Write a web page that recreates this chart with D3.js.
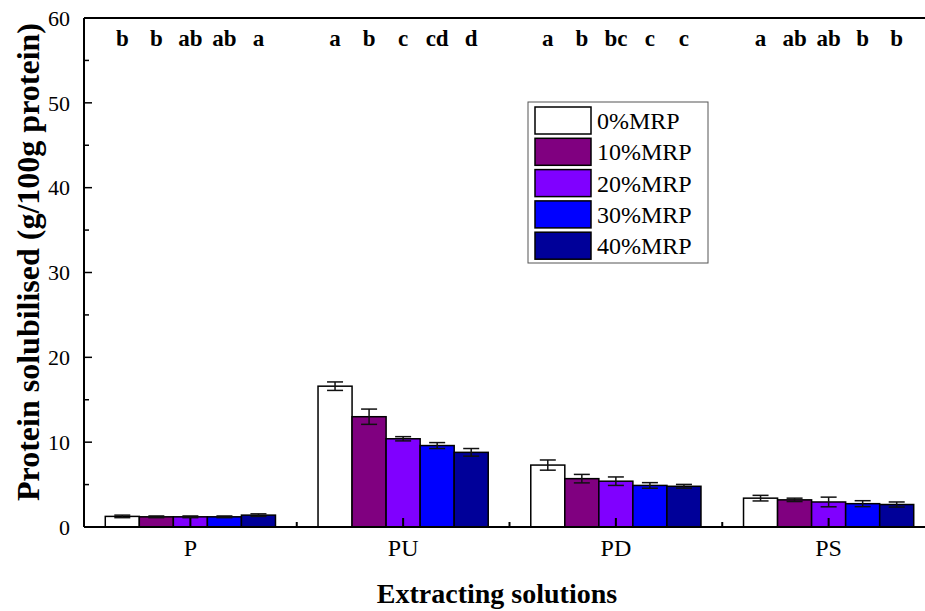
<!DOCTYPE html>
<html>
<head>
<meta charset="utf-8">
<script src="https://cdn.jsdelivr.net/npm/d3@7/dist/d3.min.js"></script>
<style>
  html, body { margin: 0; padding: 0; background: #fff; }
  svg { display: block; }
</style>
</head>
<body>
<svg id="chart" width="925" height="611"></svg>
<script>
// Extracting solutions on the x axis
const categories = ["P", "PU", "PD", "PS"];
const seriesNames = ["0%MRP", "10%MRP", "20%MRP", "30%MRP", "40%MRP"];
const seriesColors = ["#ffffff", "#800080", "#8000ff", "#0000ff", "#000099"];

// Protein solubilised (g/100g protein), one array per MRP level (P, PU, PD, PS)
const mrp0  = [1.25, 16.6, 7.3, 3.4];
const mrp10 = [1.2, 13.0, 5.7, 3.2];
const mrp20 = [1.2, 10.4, 5.4, 2.95];
const mrp30 = [1.2, 9.6, 4.9, 2.75];
const mrp40 = [1.4, 8.8, 4.8, 2.65];

// Standard deviations
const err0  = [0.15, 0.5, 0.6, 0.33];
const err10 = [0.1, 0.9, 0.5, 0.2];
const err20 = [0.1, 0.25, 0.5, 0.57];
const err30 = [0.1, 0.35, 0.33, 0.35];
const err40 = [0.15, 0.45, 0.22, 0.3];

// Significance letters per extracting solution
const lettersP  = ["b", "b", "ab", "ab", "a"];
const lettersPU = ["a", "b", "c", "cd", "d"];
const lettersPD = ["a", "b", "bc", "c", "c"];
const lettersPS = ["a", "ab", "ab", "b", "b"];

const yTicks = [0, 10, 20, 30, 40, 50, 60];
const yMinorTicks = [5, 15, 25, 35, 45, 55];

const values = [mrp0, mrp10, mrp20, mrp30, mrp40];
const errors = [err0, err10, err20, err30, err40];
const letters = [lettersP, lettersPU, lettersPD, lettersPS];

const svg = d3.select("#chart")
  .attr("font-family", "Liberation Serif, Times New Roman, serif");
const pLeft = 84, pRight = 935, pTop = 18, pBottom = 527;

const x0 = d3.scaleBand().domain(categories).range([pLeft, pRight])
  .paddingInner(0.2).paddingOuter(0.1);
const x1 = d3.scaleBand().domain(seriesNames).range([0, x0.bandwidth()]);
const y = d3.scaleLinear().domain([0, 60]).range([pBottom, pTop]);

// Bars with error bars
const rows = [];
categories.forEach((c, ci) => {
  seriesNames.forEach((s, si) => {
    rows.push({ cat: c, ser: s, si, v: values[si][ci], e: errors[si][ci], letter: letters[ci][si] });
  });
});
const cx = d => x0(d.cat) + x1(d.ser) + x1.bandwidth() / 2;

const g = svg.append("g");
g.selectAll("rect.bar").data(rows).join("rect")
  .attr("class", "bar")
  .attr("x", d => x0(d.cat) + x1(d.ser))
  .attr("y", d => y(d.v))
  .attr("width", x1.bandwidth())
  .attr("height", d => y(0) - y(d.v))
  .attr("fill", d => seriesColors[d.si])
  .attr("stroke", "#000")
  .attr("stroke-width", 1.5);

const cap = 8;
const eb = g.selectAll("g.err").data(rows).join("g").attr("class", "err")
  .attr("stroke", "#111").attr("stroke-width", 1.5);
eb.append("line")
  .attr("x1", cx).attr("x2", cx)
  .attr("y1", d => y(d.v + d.e)).attr("y2", d => y(d.v - d.e));
[1, -1].forEach(sign => {
  eb.append("line")
    .attr("x1", d => cx(d) - cap).attr("x2", d => cx(d) + cap)
    .attr("y1", d => y(d.v + sign * d.e)).attr("y2", d => y(d.v + sign * d.e));
});

// Significance letters
g.selectAll("text.letter").data(rows).join("text")
  .attr("class", "letter")
  .attr("x", cx)
  .attr("y", 46)
  .attr("text-anchor", "middle")
  .attr("font-weight", "bold")
  .attr("font-size", 23)
  .text(d => d.letter);

// Axes frame
const frame = svg.append("g").attr("stroke", "#000").attr("stroke-width", 2);
frame.append("line").attr("x1", pLeft).attr("x2", pRight).attr("y1", pTop).attr("y2", pTop);
frame.append("line").attr("x1", pLeft).attr("x2", pRight).attr("y1", pBottom).attr("y2", pBottom);
frame.append("line").attr("x1", pLeft).attr("x2", pLeft).attr("y1", pTop).attr("y2", pBottom);

// Y ticks (inward)
const yAxis = svg.append("g");
yAxis.selectAll("line.maj").data(yTicks).join("line").attr("class", "maj")
  .attr("x1", pLeft).attr("x2", pLeft + 8)
  .attr("y1", d => y(d)).attr("y2", d => y(d))
  .attr("stroke", "#000").attr("stroke-width", 1.5);
yAxis.selectAll("line.min").data(yMinorTicks).join("line").attr("class", "min")
  .attr("x1", pLeft).attr("x2", pLeft + 5)
  .attr("y1", d => y(d)).attr("y2", d => y(d))
  .attr("stroke", "#000").attr("stroke-width", 1.5);
yAxis.selectAll("text").data(yTicks).join("text")
  .attr("x", pLeft - 14).attr("y", d => y(d))
  .attr("dy", "0.35em")
  .attr("text-anchor", "end")
  .attr("font-size", 22)
  .text(d => d);

// X ticks (inward): major at category centres, minor at boundaries
const boundary = d => x0(d) - x0.step() * x0.paddingInner() / 2;
const xAxis = svg.append("g");
xAxis.selectAll("line.maj").data(categories).join("line").attr("class", "maj")
  .attr("x1", d => x0(d) + x0.bandwidth() / 2).attr("x2", d => x0(d) + x0.bandwidth() / 2)
  .attr("y1", pBottom).attr("y2", pBottom - 9)
  .attr("stroke", "#000").attr("stroke-width", 2);
xAxis.selectAll("line.min").data(categories.slice(1)).join("line").attr("class", "min")
  .attr("x1", boundary).attr("x2", boundary)
  .attr("y1", pBottom).attr("y2", pBottom - 5)
  .attr("stroke", "#000").attr("stroke-width", 2);
xAxis.selectAll("text").data(categories).join("text")
  .attr("x", d => x0(d) + x0.bandwidth() / 2).attr("y", 556)
  .attr("text-anchor", "middle")
  .attr("font-size", 24)
  .text(d => d);

// Axis titles
svg.append("text")
  .attr("transform", "translate(39,262) rotate(-90)")
  .attr("text-anchor", "middle")
  .attr("font-weight", "bold")
  .attr("font-size", 32)
  .text("Protein solubilised (g/100g protein)");
svg.append("text")
  .attr("x", 497).attr("y", 603)
  .attr("text-anchor", "middle")
  .attr("font-weight", "bold")
  .attr("font-size", 28)
  .text("Extracting solutions");

// Legend
const legend = svg.append("g").attr("transform", "translate(528,102)");
legend.append("rect").attr("width", 180).attr("height", 161)
  .attr("fill", "#fff").attr("stroke", "#555").attr("stroke-width", 1);
const li = legend.selectAll("g.item").data(seriesNames).join("g")
  .attr("class", "item")
  .attr("transform", (d, i) => `translate(7,${5 + i * 31.3})`);
li.append("rect").attr("width", 56).attr("height", 27)
  .attr("fill", (d, i) => seriesColors[i])
  .attr("stroke", "#000").attr("stroke-width", 1.5);
li.append("text").attr("x", 62).attr("y", 22)
  .attr("font-size", 24)
  .text(d => d);
</script>
</body>
</html>
